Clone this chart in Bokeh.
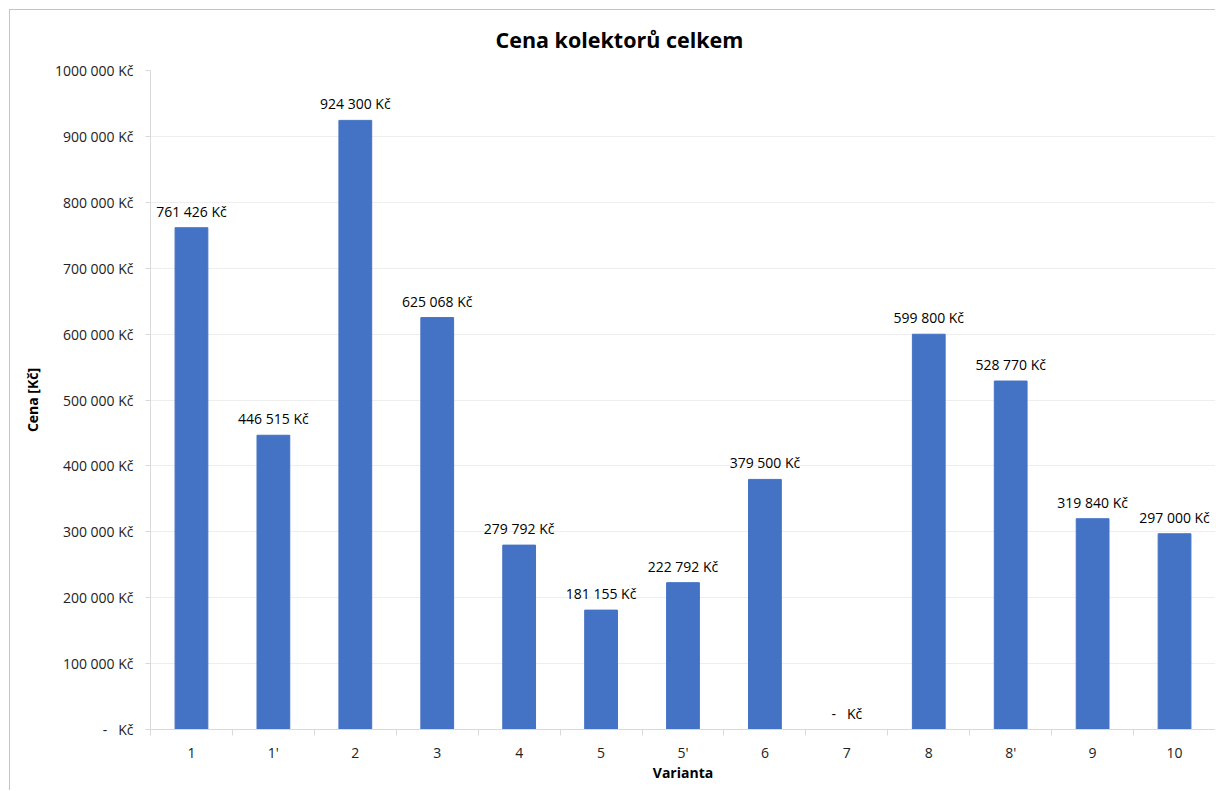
from bokeh.plotting import figure
from bokeh.models import Range1d, FixedTicker, ColumnDataSource, Title
from bokeh.embed import file_html
from bokeh.resources import INLINE
from bokeh.core.properties import value

# ---- data ----
categories = ["1", "1'", "2", "3", "4", "5", "5'", "6", "7", "8", "8'", "9", "10"]
prices = [761426, 446515, 924300, 625068, 279792, 181155, 222792, 379500, 0,
          599800, 528770, 319840, 297000]
y_ticks = [0, 100000, 200000, 300000, 400000, 500000, 600000, 700000, 800000, 900000, 1000000]
y_tick_labels = ["-\u00a0\u00a0\u00a0Kč", "100 000 Kč", "200 000 Kč", "300 000 Kč", "400 000 Kč",
                 "500 000 Kč", "600 000 Kč", "700 000 Kč", "800 000 Kč", "900 000 Kč",
                 "1000 000 Kč"]
title_text = "Cena kolektorů celkem"
x_title = "Varianta"
y_title = "Cena [Kč]"


def fmt(v):
    if v == 0:
        return "-\u00a0\u00a0\u00a0Kč"
    return f"{v:,}".replace(",", " ") + " Kč"


FONT = "Open Sans"
n = len(categories)
xs = [i + 0.5 for i in range(n)]
src = ColumnDataSource(dict(x=xs, top=prices, lab=[fmt(v) for v in prices]))

p = figure(width=1206, height=781, output_backend="svg", toolbar_location=None,
           x_range=Range1d(0, n), y_range=Range1d(0, 1000000),
           min_border_left=140, min_border_right=1, min_border_top=60, min_border_bottom=62)
p.styles = {"margin-left": "9px", "margin-top": "9px",
            "border-top": "1px solid #c4c4c4", "border-left": "1px solid #c4c4c4"}
p.outline_line_color = None
p.background_fill_color = "white"
p.border_fill_color = "white"

t = Title(text=title_text, align="left", offset=345, text_font=FONT, text_font_size="21.5px",
          text_font_style="bold", text_color="#000000", standoff=29, vertical_align="top")
p.add_layout(t, "above")

p.vbar(x="x", top="top", width=0.4, source=src, color="#4472C4")
p.text(x="x", y="top", text="lab", source=src, text_align="center", text_baseline="bottom",
       y_offset=-7, text_font=value(FONT), text_font_size="14px", text_color="#000000")

# x axis
xa = p.xaxis[0]
xa.ticker = FixedTicker(ticks=xs, minor_ticks=list(range(n + 1)))
xa.major_label_overrides = {x: c for x, c in zip(xs, categories)}
xa.major_tick_line_color = None
xa.major_tick_out = 0
xa.major_tick_in = 0
xa.minor_tick_out = 6
xa.minor_tick_in = 0
xa.minor_tick_line_color = "#d9d9d9"
xa.axis_line_color = "#d9d9d9"
xa.major_label_standoff = 7
xa.major_label_text_font = FONT
xa.major_label_text_font_size = "14px"
xa.major_label_text_color = "#222222"
xa.axis_label = x_title
xa.axis_label_text_font = FONT
xa.axis_label_text_font_size = "14px"
xa.axis_label_text_font_style = "bold"
xa.axis_label_text_color = "#000000"
xa.axis_label_standoff = -2

# y axis
ya = p.yaxis[0]
ya.ticker = FixedTicker(ticks=y_ticks, minor_ticks=[])
ya.major_label_overrides = {t_: l for t_, l in zip(y_ticks, y_tick_labels)}
ya.major_tick_out = 5
ya.major_tick_in = 0
ya.major_tick_line_color = "#d9d9d9"
ya.axis_line_color = "#d9d9d9"
ya.minor_tick_line_color = None
ya.major_label_standoff = 12
ya.major_label_text_font = FONT
ya.major_label_text_font_size = "14px"
ya.major_label_text_color = "#222222"
ya.axis_label = y_title
ya.axis_label_text_font = FONT
ya.axis_label_text_font_size = "14px"
ya.axis_label_text_font_style = "bold"
ya.axis_label_text_color = "#000000"
ya.axis_label_standoff = 10

p.xgrid.grid_line_color = None
p.ygrid.grid_line_color = "#eeeeee"
p.ygrid.grid_line_width = 1

open("out.html", "w").write(file_html(p, INLINE))
